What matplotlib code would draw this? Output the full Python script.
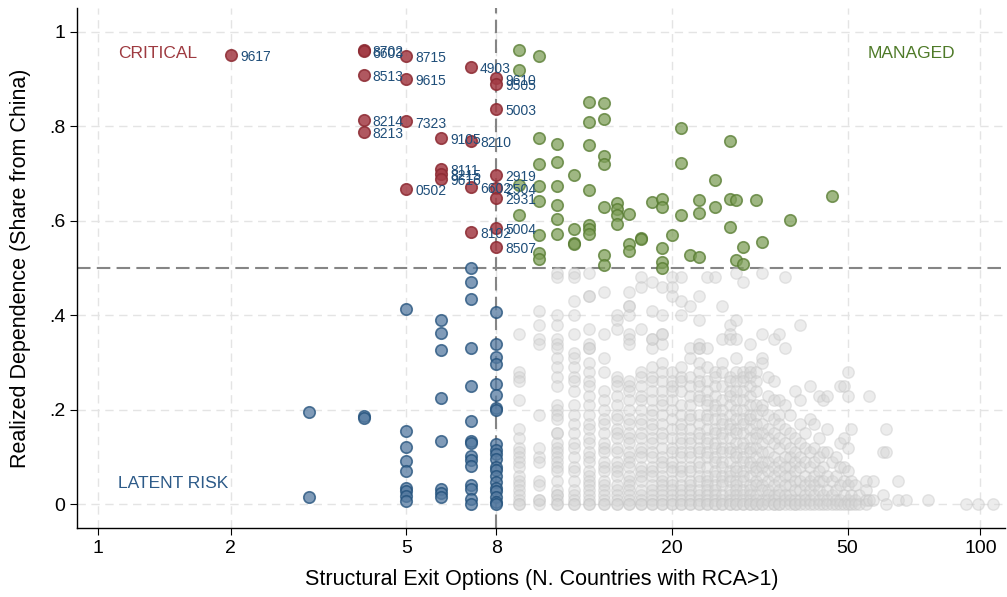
import numpy as np
import matplotlib.pyplot as plt
from matplotlib.ticker import FixedLocator, NullLocator

plt.rcParams['font.family'] = ['Liberation Sans', 'DejaVu Sans']

# Critical products: few exit options, high share from China (labelled by HS code)
crit_codes = ['9617', '8702', '6603', '8715', '4903', '8513', '9615', '9610', '9505',
              '5003', '8214', '7323', '8213', '9105', '8210', '8111', '8215', '9616',
              '2919', '0502', '6602', '2504', '2931', '5004', '8102', '8507']
crit_x = [2, 4, 4, 5, 7, 4, 5, 8, 8,
          8, 4, 5, 4, 6, 7, 6, 6, 6,
          8, 5, 7, 8, 8, 8, 7, 8]
crit_y = [0.951, 0.961, 0.958, 0.949, 0.926, 0.909, 0.900, 0.901, 0.890,
          0.837, 0.814, 0.810, 0.787, 0.776, 0.768, 0.710, 0.698, 0.689,
          0.696, 0.668, 0.672, 0.669, 0.648, 0.585, 0.576, 0.544]

# Managed products: many exit options, high share from China
man_x = [9, 10, 9, 13, 14, 13, 14, 21, 27, 10, 11, 13, 14, 14, 10, 11, 21, 12, 25,
         9, 10, 11, 13, 10, 11, 9, 11, 10, 11, 12, 12, 12, 13, 13, 13, 14, 14, 14,
         15, 15, 15, 15, 16, 16, 16, 17, 17, 18, 19, 19, 19, 19, 19, 20, 21, 22,
         23, 23, 23, 25, 27, 28, 27, 28, 29, 29, 31, 32, 37, 46, 10, 10]
man_y = [0.961, 0.949, 0.919, 0.851, 0.850, 0.808, 0.816, 0.796, 0.769, 0.774, 0.763,
         0.761, 0.737, 0.719, 0.720, 0.724, 0.722, 0.696, 0.686, 0.675, 0.673, 0.674,
         0.665, 0.641, 0.633, 0.613, 0.603, 0.570, 0.572, 0.582, 0.552, 0.550, 0.592,
         0.582, 0.571, 0.630, 0.527, 0.506, 0.638, 0.624, 0.613, 0.594, 0.615, 0.551,
         0.536, 0.564, 0.561, 0.639, 0.646, 0.630, 0.543, 0.513, 0.501, 0.569, 0.613,
         0.527, 0.643, 0.617, 0.524, 0.630, 0.646, 0.643, 0.586, 0.516, 0.544, 0.509,
         0.643, 0.556, 0.601, 0.653, 0.532, 0.518]

# Latent risk: few exit options, low share from China
lat_x = [3, 3, 4, 4,
         5, 5, 5, 5, 5, 5, 5, 5, 5,
         6, 6, 6, 6, 6, 6, 6, 6,
         7, 7, 7, 7, 7, 7, 7, 7, 7, 7, 7, 7, 7, 7, 7,
         8, 8, 8, 8, 8, 8, 8, 8, 8, 8, 8, 8, 8, 8, 8, 8, 8, 8, 8, 8, 8]
lat_y = [0.196, 0.015, 0.186, 0.182,
         0.413, 0.156, 0.121, 0.091, 0.070, 0.035, 0.028, 0.017, 0.007,
         0.390, 0.363, 0.326, 0.226, 0.135, 0.032, 0.024, 0.015,
         0.499, 0.470, 0.434, 0.330, 0.251, 0.176, 0.135, 0.129, 0.103, 0.093, 0.082,
         0.040, 0.033, 0.012, 0.001,
         0.407, 0.339, 0.312, 0.297, 0.255, 0.232, 0.204, 0.200, 0.127, 0.114, 0.107,
         0.095, 0.079, 0.072, 0.060, 0.047, 0.035, 0.028, 0.015, 0.005, 0.001]

# Everything else (many exit options, share below 0.5), share in percent per exit-option count
other = {
    9: [36, 28, 27, 26, 22, 16, 14, 12, 11, 10, 9, 8, 6, 5, 4, 3, 2, 1, 0, 0],
    10: [41, 38, 35, 34, 19, 12, 10, 9, 5, 4, 1, 1, 0],
    11: [49, 48, 40, 38, 35, 34, 33, 31, 29, 27, 25, 21, 20, 19, 18, 15, 15, 13, 12, 11,
         10, 9, 8, 7, 5, 3, 2, 2, 1, 0, 0],
    12: [49, 48, 43, 40, 36, 32, 31, 29, 27, 26, 24, 21, 19, 17, 15, 13, 12, 10, 8, 7,
         5, 3, 2, 1, 0, 0],
    13: [49, 44, 44, 37, 34, 33, 33, 30, 28, 26, 25, 23, 21, 19, 17, 16, 14, 13, 11, 10,
         9, 7, 6, 5, 4, 3, 2, 1, 0, 0],
    14: [45, 36, 31, 28, 24, 22, 20, 18, 17, 15, 13, 12, 11, 9, 8, 7, 5, 4, 3, 2, 1, 0, 0],
    15: [40, 39, 37, 27, 26, 25, 23, 21, 19, 18, 16, 15, 14, 12, 11, 9, 8, 7, 6, 4, 3,
         2, 1, 0, 0],
    16: [45, 42, 42, 40, 36, 35, 34, 26, 25, 24, 22, 20, 18, 17, 15, 14, 13, 11, 10, 9,
         8, 6, 5, 4, 3, 2, 1, 0, 0],
    17: [48, 46, 37, 28, 27, 25, 23, 22, 20, 18, 17, 15, 14, 12, 11, 10, 8, 7, 6, 5, 3,
         2, 1, 0, 0],
    18: [47, 41, 35, 35, 33, 29, 27, 26, 24, 22, 20, 19, 17, 16, 14, 13, 11, 10, 8, 7,
         6, 4, 3, 2, 1, 0, 0],
    19: [46, 40, 36, 36, 34, 30, 28, 26, 24, 22, 21, 19, 17, 15, 14, 12, 10, 9, 8, 6, 5,
         4, 3, 2, 1, 0, 0],
    20: [48, 46, 44, 28, 26, 25, 24, 22, 20, 18, 16, 14, 12, 11, 9, 8, 7, 5, 4, 3, 2, 1, 0, 0],
    21: [48, 43, 40, 29, 27, 26, 24, 21, 19, 17, 16, 14, 13, 11, 10, 8, 7, 6, 4, 3, 2, 1, 0, 0],
    22: [42, 33, 31, 27, 25, 23, 21, 19, 18, 16, 14, 13, 11, 10, 8, 7, 5, 4, 3, 2, 1, 0, 0],
    23: [44, 39, 34, 33, 33, 30, 28, 26, 25, 23, 22, 19, 17, 15, 14, 12, 11, 9, 8, 6, 5,
         3, 2, 1, 0, 0],
    24: [48, 33, 29, 26, 24, 22, 21, 19, 18, 16, 14, 13, 11, 10, 8, 6, 5, 4, 3, 2, 1, 0, 0],
    25: [48, 28, 27, 25, 23, 21, 20, 18, 16, 15, 13, 12, 10, 9, 7, 6, 4, 3, 2, 1, 0, 0],
    26: [42, 35, 30, 28, 25, 22, 20, 18, 17, 15, 14, 12, 11, 9, 8, 6, 5, 4, 2, 1, 0, 0],
    27: [38, 36, 35, 27, 26, 24, 23, 21, 19, 17, 16, 14, 12, 11, 9, 7, 6, 5, 3, 2, 1, 0, 0],
    28: [49, 39, 35, 31, 28, 26, 24, 22, 20, 18, 16, 15, 13, 11, 10, 8, 7, 5, 4, 3, 2, 1, 0, 0],
    29: [47, 28, 27, 26, 24, 22, 20, 18, 17, 15, 13, 12, 10, 9, 7, 6, 5, 3, 2, 1, 0, 0],
    30: [34, 29, 28, 27, 25, 23, 21, 19, 18, 16, 14, 12, 11, 9, 8, 6, 4, 3, 2, 1, 0, 0],
    31: [28, 26, 24, 21, 19, 17, 15, 14, 12, 10, 8, 7, 5, 4, 2, 1, 0, 0],
    32: [49, 36, 31, 30, 21, 20, 17, 15, 13, 11, 9, 8, 6, 4, 3, 1, 0, 0],
    33: [27, 23, 19, 16, 14, 11, 9, 7, 5, 3, 2, 1, 0],
    34: [35, 26, 22, 18, 15, 13, 10, 8, 6, 4, 2, 1, 0, 0],
    35: [36, 22, 19, 17, 14, 12, 9, 7, 5, 3, 2, 0, 0],
    36: [48, 33, 21, 16, 13, 10, 8, 6, 4, 2, 1, 0],
    37: [19, 15, 12, 10, 8, 6, 4, 2, 1, 0],
    38: [24, 14, 11, 9, 7, 5, 3, 1, 0, 0],
    39: [38, 22, 17, 13, 10, 8, 5, 3, 1, 0],
    40: [15, 12, 9, 6, 4, 2, 1, 0],
    41: [25, 18, 11, 8, 5, 3, 1, 0],
    42: [17, 12, 9, 6, 4, 2, 0],
    43: [23, 14, 10, 7, 5, 3, 1, 0],
    44: [22, 11, 8, 5, 2, 0],
    45: [23, 16, 11, 6, 3, 1, 0],
    46: [9, 5, 2, 0],
    47: [10, 6, 3, 1, 0],
    48: [25, 13, 8, 4, 1, 0],
    49: [25, 14, 8, 5, 2, 0],
    50: [28, 23, 12, 7, 4, 1, 0],
    51: [16, 5, 2, 0],
    52: [4, 1, 0],
    53: [2, 0],
    55: [5, 3, 1, 0],
    56: [23, 1],
    57: [5, 1],
    60: [11, 2],
    61: [16, 11, 0],
    65: [5, 1],
    68: [1],
    76: [1],
    93: [0],
    99: [0],
    107: [0],
}
oth_x = [k for k, v in other.items() for _ in v]
oth_y = [s / 100 for v in other.values() for s in v]

xticks = [1, 2, 5, 8, 20, 50, 100]
yticks = [0, 0.2, 0.4, 0.6, 0.8, 1]
ytick_labels = ['0', '.2', '.4', '.6', '.8', '1']

fig = plt.figure(figsize=(10.07, 5.97), dpi=100)
ax = fig.add_axes([0.0765, 0.1156, 0.922, 0.871])

ax.set_xscale('log')
ax.set_xlim(0.896, 114)
ax.set_ylim(-0.05, 1.05)

ax.set_axisbelow(True)
ax.grid(True, color='#e4e4e4', linestyle=(0, (6, 4)), linewidth=1.0)

ms = 68
ax.scatter(oth_x, oth_y, s=ms, facecolor='#d4d4d4', edgecolor='#c6c6c6',
           alpha=0.42, linewidth=1, zorder=2)
ax.scatter(lat_x, lat_y, s=ms, facecolor='#557aa0', edgecolor='#1f4e79',
           alpha=0.75, linewidth=1.2, zorder=3)
ax.scatter(man_x, man_y, s=ms, facecolor='#7f9f5a', edgecolor='#557a2e',
           alpha=0.75, linewidth=1.2, zorder=3)
ax.scatter(crit_x, crit_y, s=ms, facecolor='#a33b44', edgecolor='#8c2a32',
           alpha=0.85, linewidth=1.2, zorder=4)

for code, xv, yv in zip(crit_codes, crit_x, crit_y):
    ax.annotate(code, (xv, yv), xytext=(6.5, -1.5), textcoords='offset points',
                ha='left', va='center', fontsize=10, color='#1f4e79', zorder=5)

# Quadrant cut-offs, drawn above the grid
ax.axvline(8, color='#858585', linestyle=(0, (6.5, 3)), linewidth=1.5, zorder=1.8)
ax.axhline(0.5, color='#858585', linestyle=(0, (6.5, 3)), linewidth=1.5, zorder=1.8)

ax.text(1.11, 0.953, 'CRITICAL', color='#9e3a40', fontsize=12.5, va='center', ha='left')
ax.text(55.5, 0.953, 'MANAGED', color='#4e7a28', fontsize=12.5, va='center', ha='left')
ax.text(1.11, 0.045, 'LATENT RISK', color='#2c5a88', fontsize=12.5, va='center', ha='left')

ax.xaxis.set_major_locator(FixedLocator(xticks))
ax.xaxis.set_minor_locator(NullLocator())
ax.set_xticklabels([str(t) for t in xticks])
ax.set_yticks(yticks)
ax.set_yticklabels(ytick_labels)
ax.tick_params(axis='both', labelsize=14, length=5, direction='out', color='black')

for side in ['top', 'right']:
    ax.spines[side].set_visible(False)
for side in ['left', 'bottom']:
    ax.spines[side].set_linewidth(1.0)

ax.set_xlabel('Structural Exit Options (N. Countries with RCA>1)', fontsize=15.5, labelpad=9)
ax.set_ylabel('Realized Dependence (Share from China)', fontsize=15.5, labelpad=13)

fig.savefig('out.png', dpi=100)
